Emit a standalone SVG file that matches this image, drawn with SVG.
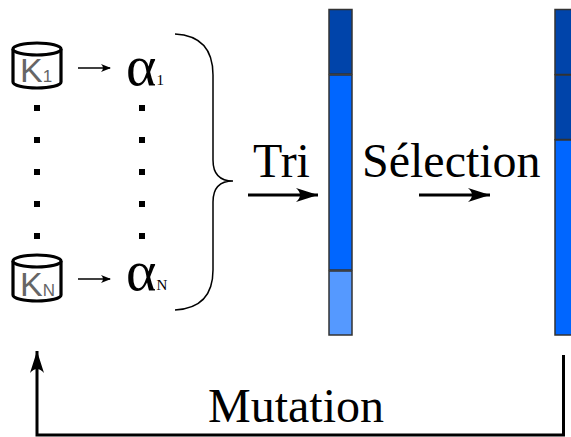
<svg xmlns="http://www.w3.org/2000/svg" width="571" height="437" viewBox="0 0 571 437">
<defs>
<style>
.big{font-family:"Liberation Serif","Times New Roman",serif;font-size:48px;fill:#000}
.k{font-family:"Liberation Sans",Arial,sans-serif;fill:#666}
.al{font-family:"Liberation Serif","Times New Roman",serif;fill:#000}
.cyl{fill:#fff;stroke:#000;stroke-width:3.2}
.dot{fill:#000}
.seg{stroke:#333;stroke-width:1.5}
.d{fill:#0044aa}.m{fill:#0066ff}.l{fill:#5599ff}
.thin{fill:none;stroke:#000;stroke-width:1.5}
.thick{fill:none;stroke:#000;stroke-width:3}
</style>
<marker id="ah" markerWidth="10" markerHeight="8" refX="9" refY="4" orient="auto" markerUnits="userSpaceOnUse">
<path d="M0,0 Q4,4 0,8 L10,4 Z" fill="#000"/>
</marker>
<marker id="ahb" markerWidth="24" markerHeight="14" refX="22" refY="7" orient="auto" markerUnits="userSpaceOnUse">
<path d="M0,0 Q8,7 0,14 L22,7 Z" fill="#000"/>
</marker>
</defs>
<g id="k1">
<path class="cyl" d="M13,49 L13,82 A24,6 0 0 0 61,82 L61,49"/>
<ellipse class="cyl" cx="37" cy="49" rx="24" ry="6"/>
<text class="k" x="20" y="82" font-size="34">K<tspan font-size="17">1</tspan></text>
</g>
<g id="kn">
<path class="cyl" d="M13,261 L13,295 A24,6 0 0 0 61,295 L61,261"/>
<ellipse class="cyl" cx="37" cy="261" rx="24" ry="6"/>
<text class="k" x="20" y="296" font-size="34">K<tspan font-size="17">N</tspan></text>
</g>
<g id="a1"><text class="al" x="126" y="85" font-size="58">α<tspan font-size="15">1</tspan></text></g>
<g id="an"><text class="al" x="126" y="290" font-size="58">α<tspan font-size="15">N</tspan></text></g>
<g id="dots">
<rect class="dot" x="34" y="105" width="6" height="6"/><rect class="dot" x="34" y="137" width="6" height="6"/><rect class="dot" x="34" y="169" width="6" height="6"/><rect class="dot" x="34" y="201" width="6" height="6"/><rect class="dot" x="34" y="233" width="6" height="6"/>
<rect class="dot" x="139" y="105" width="6" height="6"/><rect class="dot" x="139" y="137" width="6" height="6"/><rect class="dot" x="139" y="169" width="6" height="6"/><rect class="dot" x="139" y="201" width="6" height="6"/><rect class="dot" x="139" y="233" width="6" height="6"/>
</g>
<g id="bar1">
<rect class="seg d" x="329" y="9.5" width="23" height="64.5"/>
<rect class="seg m" x="329" y="75" width="23" height="195"/>
<rect class="seg l" x="329" y="271" width="23" height="64"/>
</g>
<g id="bar2">
<rect class="seg d" x="555" y="9.5" width="23" height="65"/>
<rect class="seg d" x="555" y="75" width="23" height="64.5"/>
<rect class="seg m" x="555" y="140" width="23" height="195"/>
</g>
<g id="labels">
<text class="big" x="253" y="177">Tri</text>
<text class="big" x="362" y="177">Sélection</text>
<text class="big" x="208" y="422">Mutation</text>
</g>
<g id="connectors">
<path class="thin" d="M78,68 L110,68" marker-end="url(#ah)"/>
<path class="thin" d="M78,279 L110,279" marker-end="url(#ah)"/>
<path class="thin" d="M175,34 Q213,36 213,75 L213,160 Q213,181 233,181 Q213,181 213,202 L213,270 Q213,308 175,310"/>
<path class="thick" d="M248,195 L318,195" marker-end="url(#ahb)"/>
<path class="thick" d="M419,195 L490,195" marker-end="url(#ahb)"/>
<path class="thick" d="M563.5,355 L563.5,435 L37,435 L37,351" marker-end="url(#ahb)"/>
</g>
</svg>
